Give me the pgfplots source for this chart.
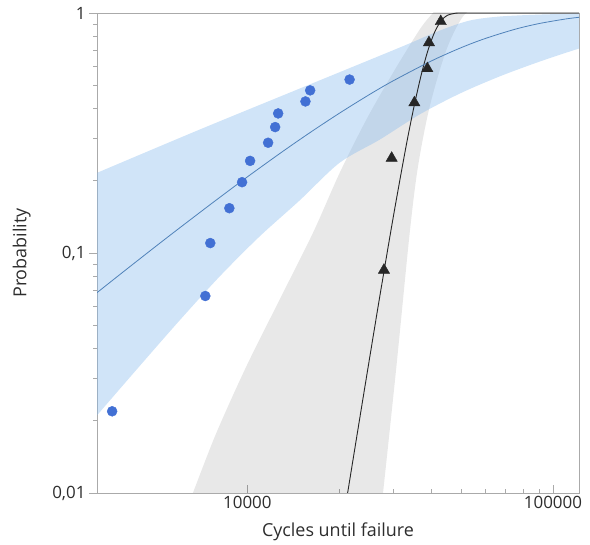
\documentclass[border=0pt]{standalone}
\usepackage{fontspec}
\setmainfont{Open Sans}
\usepackage{pgfplots}
\pgfplotsset{compat=1.18}
\usepgfplotslibrary{fillbetween}
\definecolor{dotblue}{RGB}{66,112,212}
\definecolor{bandblue}{RGB}{137,187,237}
\definecolor{lineblue}{RGB}{80,130,185}
\definecolor{tri}{RGB}{38,38,38}
\definecolor{axgray}{RGB}{170,170,170}
\definecolor{txt}{RGB}{45,45,45}
\begin{document}
\begin{tikzpicture}
\begin{axis}[
  at={(0,0)}, anchor=south west,
  scale only axis, width=482bp, height=480bp,
  xmode=log, ymode=log,
  xmin=3220, xmax=121700, ymin=0.01, ymax=1,
  xtick={10000,100000}, xticklabels={10000,100000},
  ytick={0.01,0.1,1}, yticklabels={{0,01},{0,1},{1}},
  tick pos=left,
  xtick align=inside, ytick align=outside,
  major tick length=8bp, minor tick length=4bp,
  axis line style={axgray, line width=0.8bp},
  every tick/.style={axgray, line width=0.6bp},
  tick label style={font=\fontsize{17}{20}\selectfont, text=txt},
  /pgf/number format/assume math mode=true,
  xlabel={Cycles until failure}, ylabel={Probability},
  label style={font=\fontsize{18}{21}\selectfont, text=txt},
  xlabel style={at={(axis description cs:0.5,-0.081)}, anchor=center},
  ylabel style={at={(axis description cs:-0.156,0.5)}, anchor=center},
]
% triangles (below the bands)
\addplot[only marks, mark=triangle*, mark size=6.5bp, tri] coordinates {
 (27990,0.0849) (29660,0.2485) (35200,0.423) (38820,0.587) (39290,0.753) (42940,0.922)};
% black fit line
\addplot[tri, line width=0.9bp, smooth] coordinates {
 (21280,0.00999) (24000,0.02563) (27000,0.0637) (30000,0.1405) (33000,0.2748)
 (35000,0.4004) (37000,0.5477) (39000,0.6996) (41000,0.8322) (43000,0.9258)
 (45000,0.9759) (48000,0.99798) (52000,0.99999) (60000,1) (125000,1)};
% gray band
\addplot[name path=gl, draw=none, smooth] coordinates {
 (6118,0.00768) (6616,0.00992) (7897,0.01767) (9902,0.03352) (12730,0.0637)
 (16370,0.1209) (20030,0.2152) (24500,0.3591) (29950,0.5627) (36640,0.8533)
 (40510,1.002) (44250,1.139)};
\addplot[name path=gr, draw=none, smooth] coordinates {
 (27090,0.00767) (27770,0.00992) (30730,0.03352) (33970,0.1209) (36170,0.2293)
 (39520,0.4083) (44820,0.7037) (50810,0.9696) (57640,1.085)};
\addplot[fill=black, fill opacity=0.09, draw=none] fill between[of=gl and gr];
% blue band
\addplot[name path=bu, draw=none, smooth] coordinates {
 (3000,0.2074) (3221,0.2158) (6959,0.3263) (14810,0.4840) (31500,0.7178)
 (42620,0.8449) (53450,0.9304) (67020,0.9669) (90650,0.985) (122600,0.995) (130000,0.996)};
\addplot[name path=bl, draw=none, smooth] coordinates {
 (2419,0.01373) (3221,0.02107) (4425,0.03364) (5984,0.05217) (8094,0.0796)
 (10948,0.1170) (14810,0.1654) (20030,0.2376) (27090,0.2966) (36640,0.3780)
 (49570,0.4617) (67020,0.5446) (90650,0.6279) (122600,0.7129) (130000,0.72)};
\addplot[fill=bandblue, fill opacity=0.4, draw=none] fill between[of=bu and bl];
% blue fit line
\addplot[lineblue, line width=0.8bp, smooth] coordinates {
 (3221,0.06838) (4000,0.08507) (5000,0.1063) (6000,0.1272) (8000,0.1681) (10000,0.2076)
 (13000,0.2640) (16000,0.3169) (20000,0.3823) (25000,0.4561) (30000,0.5217)
 (40000,0.6312) (50000,0.7166) (60000,0.7828) (75000,0.8549) (90000,0.9034)
 (110000,0.9442) (122000,0.9599)};
% blue dots
\addplot[only marks, mark=*, mark size=5bp, dotblue] coordinates {
 (3609,0.0219) (7284,0.0662) (7562,0.110) (8730,0.1537) (9608,0.1973) (10206,0.242)
 (11690,0.288) (12327,0.3347) (12610,0.3816) (15490,0.428) (16050,0.476) (21600,0.528)};
\end{axis}
\pgfresetboundingbox
\useasboundingbox (-97bp,-52bp) rectangle (493bp,493bp);
\end{tikzpicture}
\end{document}
